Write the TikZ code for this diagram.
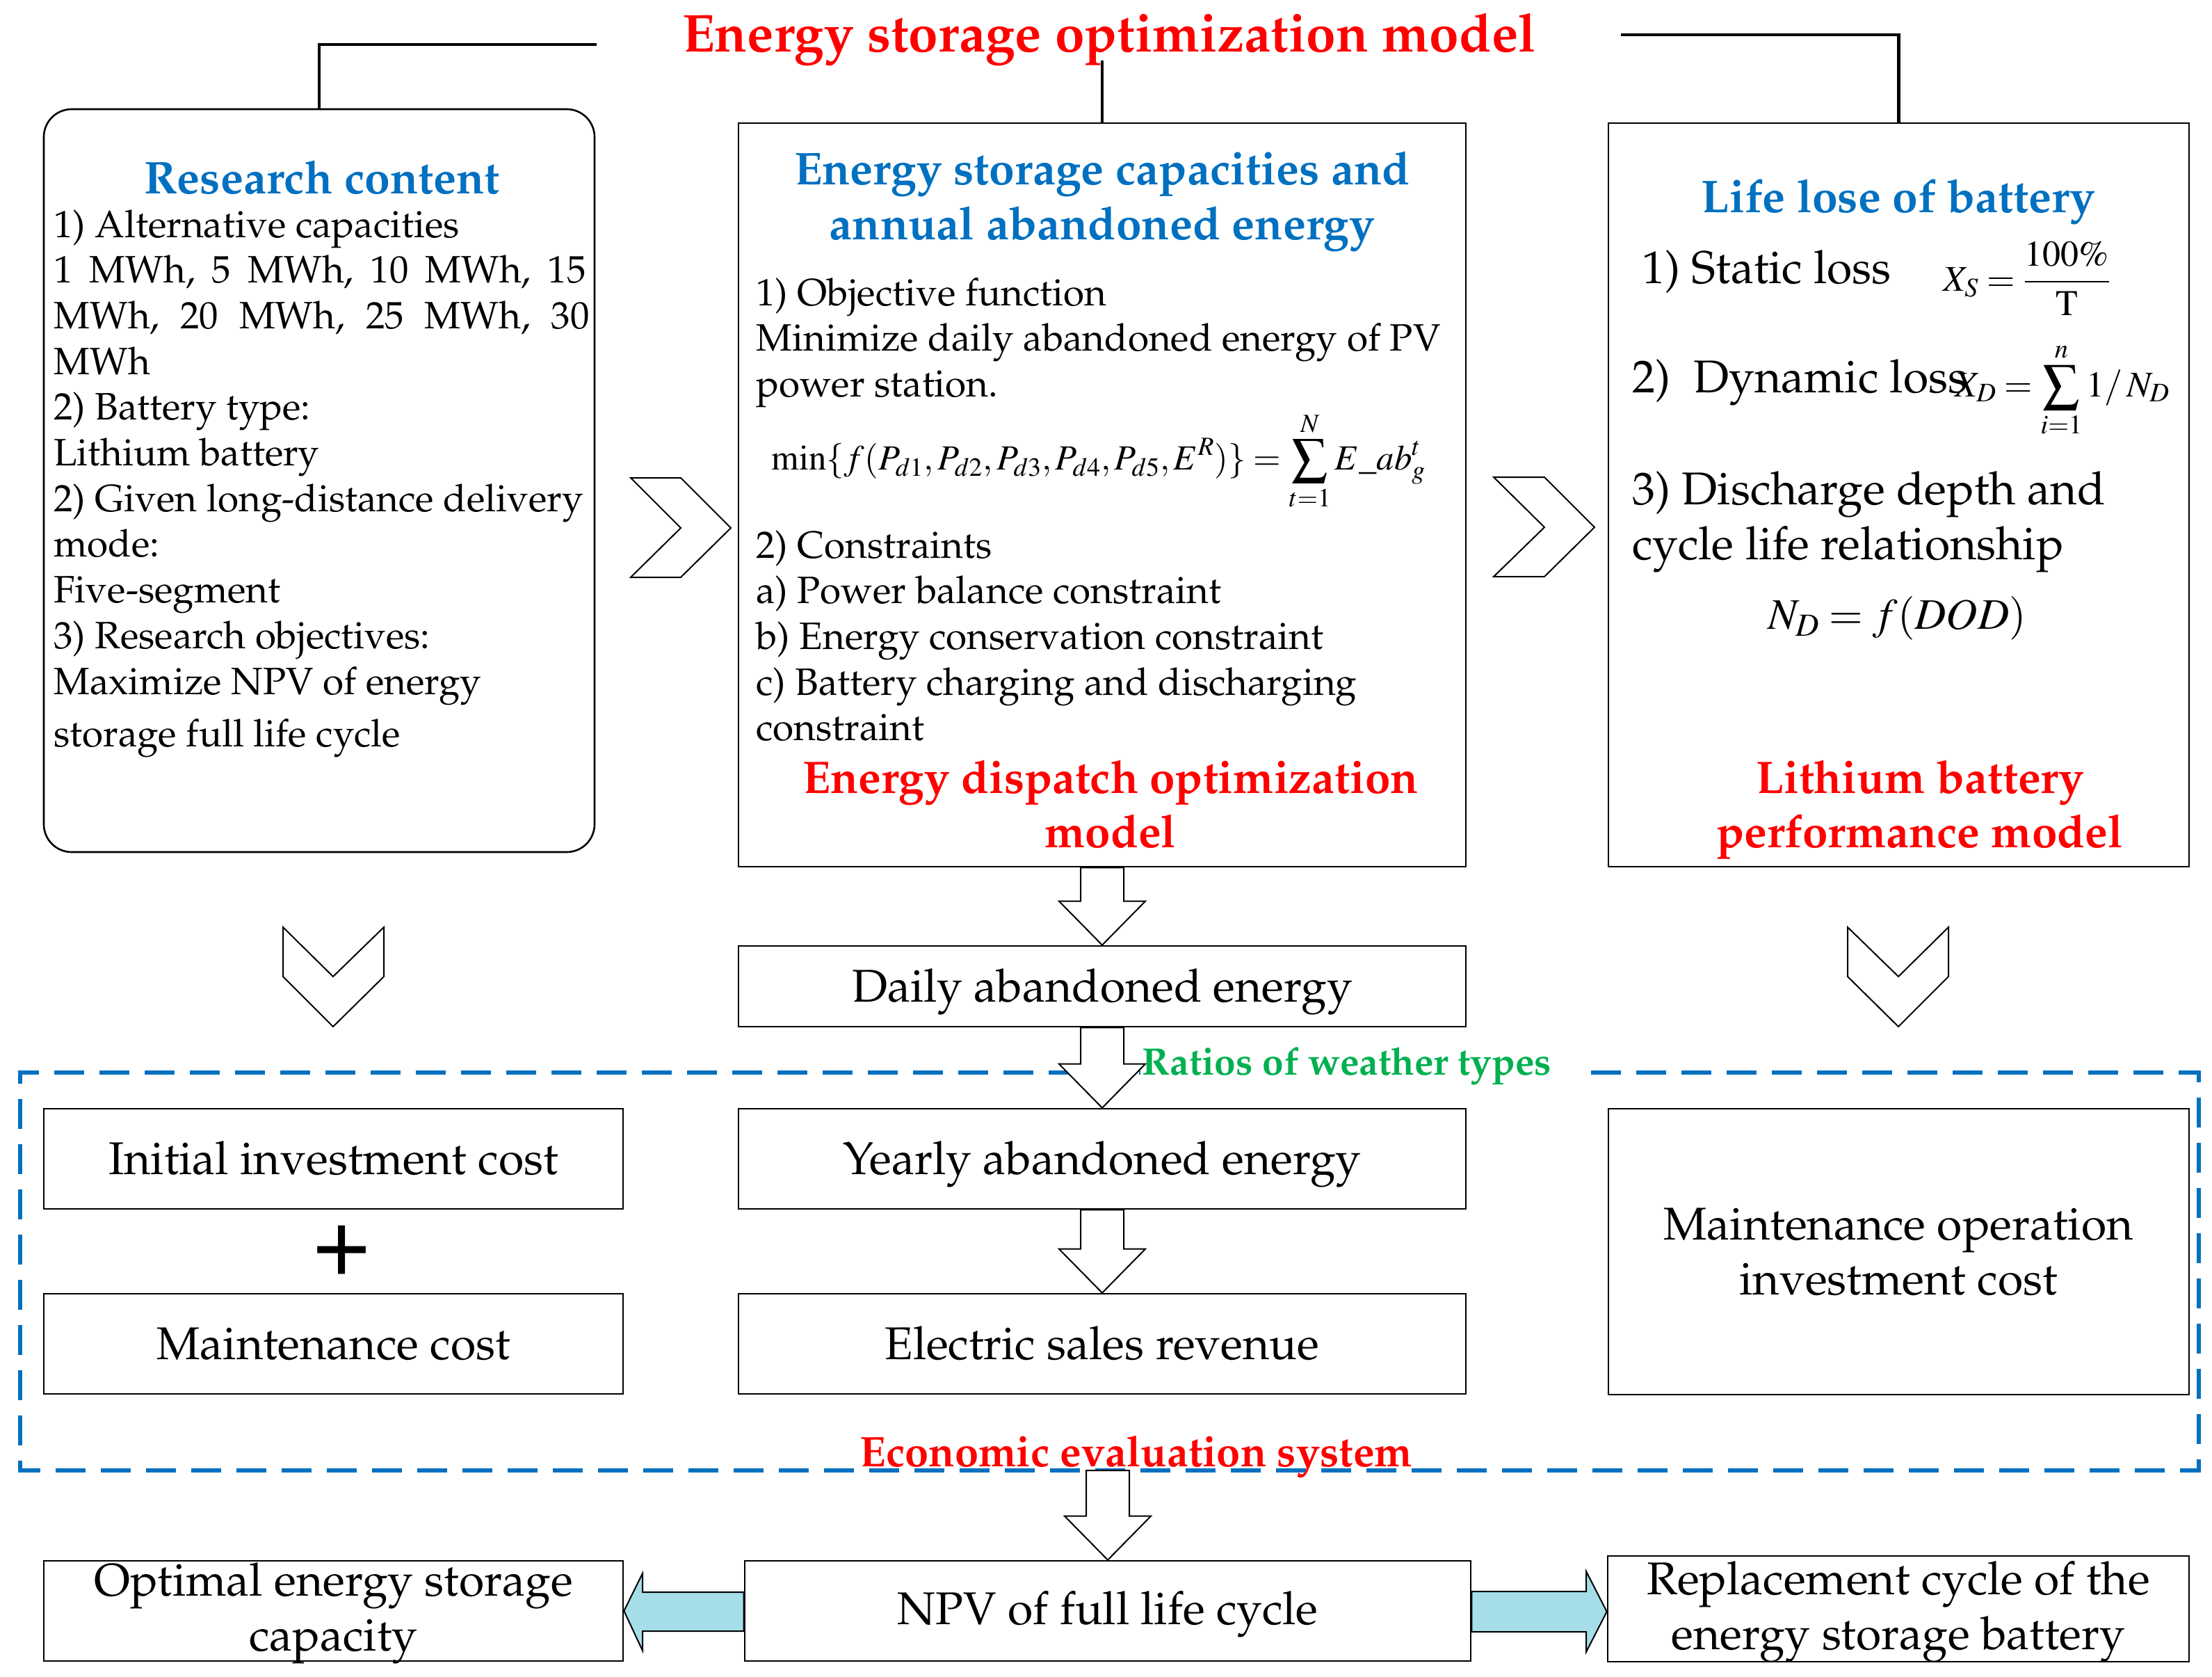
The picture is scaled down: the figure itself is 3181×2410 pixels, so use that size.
\documentclass[tikz,border=0pt]{standalone}
\usepackage[T1]{fontenc}
\usepackage{mathptmx}
\renewcommand\rmdefault{ppl}
\usetikzlibrary{calc}
\definecolor{blu}{HTML}{0070C0}
\definecolor{grn}{HTML}{00B050}
\definecolor{cyn}{HTML}{A5DEE9}
\newcommand\fs[2]{\fontsize{#1}{#2}\selectfont}
\tikzset{
  box/.style={draw=black,line width=1.3pt,inner sep=0,align=center},
  conn/.style={draw=black,line width=2.4pt},
  blk/.style={draw=black,fill=white,line width=1pt},
  chev/.style={draw=black,fill=white,line width=1pt,line join=miter},
  cyarrow/.style={draw=black,fill=cyn,line width=1pt},
  body/.style={inner sep=0,anchor=north west,align=left,font=\fs{27.4}{32.85}},
  big/.style={inner sep=0,align=center,font=\fs{33}{39.5}},
  one/.style={big,text height=22pt,text depth=0pt},
  bluet/.style={inner sep=0,align=center,text=blu,font=\fs{33}{39.5}\bfseries},
  redt/.style={inner sep=0,align=center,text=red,font=\fs{32.8}{39}\bfseries},
}
\newcommand\blockdown[2]{\draw[blk] let \p1=(#1), \p2=(#2) in
  ({\x1-15.5pt},\y1) -- ({\x1-15.5pt},{\y2+31.5pt}) -- ({\x1-31pt},{\y2+31.5pt}) -- (\x1,\y2)
  -- ({\x1+31pt},{\y2+31.5pt}) -- ({\x1+15.5pt},{\y2+31.5pt}) -- ({\x1+15.5pt},\y1) -- cycle;}
\begin{document}
\begin{tikzpicture}[x=0.5pt,y=-0.5pt]
\useasboundingbox (0,0) rectangle (3181,2410);
% dashed frame
\draw[blu,line width=3pt,dash pattern=on 21.5pt off 11pt] (2288,1542) -- (3162,1542) -- (3162,2114) -- (29,2114) -- (29,1542) -- (2288,1542);
\fill[white] (1640,1510) rectangle (2288,1565);
% title
\node[inner sep=0,text=red,font=\fs{38.3}{44}\bfseries] (title) at (1595,57) {Energy storage optimization model};
% main boxes
\node[box,rounded corners=20pt,minimum width=396pt,minimum height=534pt] (research) at (459,691) {};
\node[box,minimum width=523pt,minimum height=534.5pt] (mid) at (1585,711.5) {};
\node[box,minimum width=417.5pt,minimum height=534.5pt] (right) at (2730.5,711.5) {};
% connectors
\coordinate (tl) at (858,64);
\coordinate (tm) at (1585,87);
\coordinate (tr) at (2331,50);
\draw[conn] (tl) -| (research.north);
\draw[conn] (tm) -- (mid.north);
\draw[conn] (tr) -| (right.north);
% research content
\node[bluet] (t1) at (463,255) {Research content};
\node[body] (b1) at (77,301) {1) Alternative capacities\\
{\spaceskip=12pt 1 MWh, 5 MWh, 10 MWh, 15}\\
{\spaceskip=14.9pt MWh, 20 MWh, 25 MWh, 30}\\
MWh\\
2) Battery type:\\
Lithium battery\\
2) Given long-distance delivery\\
mode:\\
Five-segment\\
3) Research objectives:\\
Maximize NPV of energy\\[5pt]
storage full life cycle};
% middle
\node[bluet] (t2) at (1585,289.5) {Energy storage capacities and\\annual abandoned energy};
\node[body] (b2a) at (1087,399) {1) Objective function\\
Minimize daily abandoned energy of PV\\
power station.};
\node[inner sep=0,font=\fs{25.4}{30}] (f1) at (1580,663) {$\displaystyle \min\{f(P_{d1},P_{d2},P_{d3},P_{d4},P_{d5},E^{R})\}=\sum_{t=1}^{N}E\_ab_{g}^{t}$};
\node[body] (b2b) at (1087,762) {2) Constraints\\
a) Power balance constraint\\
b) Energy conservation constraint\\
c) Battery charging and discharging\\
constraint};
\node[redt] (r2) at (1597,1156) {Energy dispatch optimization\\model};
% right
\node[bluet] (t3) at (2730,290) {Life lose of battery};
\node[big,anchor=west] (s1) at (2361,391) {1) Static loss};
\node[inner sep=0,font=\fs{26}{30}] (f2) at (2915,401) {$\displaystyle X_{S}=\frac{100\%}{\mathrm{T}}$};
\node[big,anchor=west] (s2) at (2347,550) {2)\ \ Dynamic loss};
\node[inner sep=0,font=\fs{26}{30}] (f3) at (2966,561) {$\displaystyle X_{D}=\sum_{i=1}^{n}1/\,N_{D}$};
\node[big,anchor=north west,align=left] (s3) at (2347,677) {3) Discharge depth and\\cycle life relationship};
\node[inner sep=0,font=\fs{31.3}{34}] (f4) at (2728,889) {$N_{D}=f(DOD)$};
\node[redt] (r3) at (2761,1164) {Lithium battery\\performance model};
% chevrons
\coordinate (c1a) at (907,687);
\draw[chev] (c1a) -- (979,687) -- (1051,759) -- (979,830) -- (907,830) -- (979,759) -- cycle;
\coordinate (c2a) at (2148,686);
\draw[chev] (c2a) -- (2221,686) -- (2293,758) -- (2221,829) -- (2148,829) -- (2221,758) -- cycle;
\coordinate (c3a) at (407,1333);
\draw[chev] (c3a) -- (479,1404) -- (552,1333) -- (552,1404) -- (479,1476) -- (407,1404) -- cycle;
\coordinate (c4a) at (2657,1333);
\draw[chev] (c4a) -- (2730,1404) -- (2802,1333) -- (2802,1404) -- (2730,1476) -- (2657,1404) -- cycle;
% lower boxes
\node[box,one,minimum width=523pt,minimum height=58pt] (daily) at (1585,1418) {Daily abandoned energy};
\node[box,one,minimum width=523pt,minimum height=72pt] (yearly) at (1585,1666) {Yearly abandoned energy};
\node[box,one,minimum width=523pt,minimum height=72pt] (sales) at (1585,1932) {Electric sales revenue};
\node[box,one,minimum width=416.5pt,minimum height=72pt] (init) at (479.5,1666) {Initial investment cost};
\node[box,one,minimum width=416.5pt,minimum height=72pt] (maint) at (479.5,1932) {Maintenance cost};
\node[inner sep=0,font=\fontsize{72}{72}\usefont{T1}{phv}{m}{n}] (plus) at (492,1794) {+};
\node[box,minimum width=417.5pt,minimum height=205.5pt] (mop) at (2730.5,1799.5) {};
\node[big] (moptxt) at (2730,1800) {Maintenance operation\\investment cost};
% block arrows
\blockdown{mid.south}{daily.north}
\blockdown{daily.south}{yearly.north}
\blockdown{yearly.south}{sales.north}
% green and red labels
\node[inner sep=0,text=grn,font=\fs{27.5}{30}\bfseries] (ratios) at (1937,1533) {Ratios of weather types};
\node[inner sep=0,text=red,font=\fs{30.7}{34}\bfseries] (econ) at (1634,2094) {Economic evaluation system};
% bottom row
\node[box,big,text depth=6pt,minimum width=416.5pt,minimum height=72pt] (opt) at (479.5,2316) {Optimal energy storage\\capacity};
\node[box,one,text depth=3pt,minimum width=522pt,minimum height=72pt] (npv) at (1593,2316) {NPV of full life cycle};
\node[box,big,text depth=4.5pt,minimum width=418pt,minimum height=76pt] (rep) at (2730,2313) {Replacement cycle of the\\energy storage battery};
\coordinate (etop) at (1593,2114);
\blockdown{etop}{npv.north}
\draw[cyarrow] (npv.west |- 0,2289) -- (924,2289) -- (924,2262) -- (opt.east) -- (924,2373) -- (924,2345) -- (npv.west |- 0,2345) -- cycle;
\draw[cyarrow] (npv.east |- 0,2288) -- (2281,2288) -- (2281,2259) -- (rep.west |- 0,2317) -- (2281,2375) -- (2281,2346) -- (npv.east |- 0,2346) -- cycle;
\end{tikzpicture}
\end{document}
